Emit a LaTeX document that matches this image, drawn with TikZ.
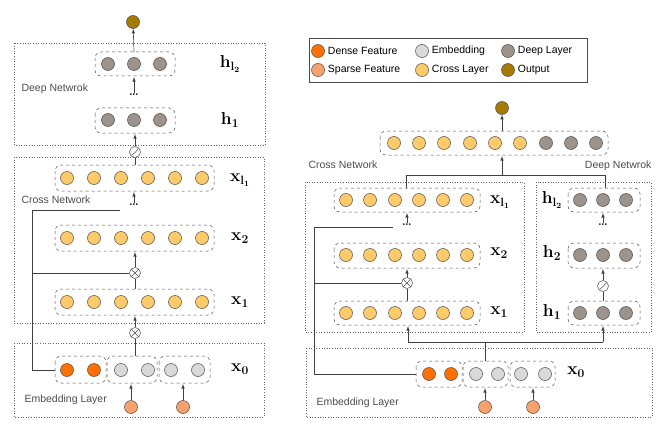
\documentclass[tikz,border=0pt]{standalone}
\usepackage{fontspec}
\setsansfont{Liberation Sans}
\usetikzlibrary{positioning,shapes.misc,calc}
\definecolor{densec}{HTML}{FF7000}
\definecolor{sparsec}{HTML}{F7A26C}
\definecolor{embc}{HTML}{D9D9D9}
\definecolor{crossc}{HTML}{FFCA6A}
\definecolor{deepc}{HTML}{9C948C}
\definecolor{outc}{HTML}{A67A00}
\begin{document}
\begin{tikzpicture}[x=1pt,y=-1pt,
    unit/.style={circle,draw=black!70,line width=.5pt,minimum size=13pt,inner sep=0pt},
    dense/.style={unit,fill=densec},
    sparse/.style={unit,fill=sparsec},
    emb/.style={unit,fill=embc},
    cross/.style={unit,fill=crossc},
    deep/.style={unit,fill=deepc},
    outp/.style={unit,fill=outc},
    group/.style={draw=black!70,dashed,rounded corners=6pt,line width=.5pt},
    panel/.style={draw=black!60,dotted,line width=.6pt},
    media/.style={font={\fontsize{10.5}{12}\sffamily},text=black!70},
    lab/.style={font=\fontsize{17}{17}\selectfont\boldmath},
    op/.style={circle,draw=black!70,fill=white,minimum size=11pt,inner sep=0pt,line width=.5pt},
    otimes/.style={op,path picture={\draw[black!70] (path picture bounding box.north west)--(path picture bounding box.south east)
        (path picture bounding box.north east)--(path picture bounding box.south west);}},
    relu/.style={op,path picture={\draw[black!70] ($(path picture bounding box.center)+(-3.5,3.5)$)--($(path picture bounding box.center)+(0,0.5)$)--($(path picture bounding box.center)+(3.5,-3.5)$);}},
    link/.style={draw=black!75,line width=.6pt},
    flow/.style={link,-latex},
    dots/.style={font=\large\bfseries,inner sep=1pt},
    ]
    \useasboundingbox (0,0) rectangle (666,433);

    % ---------------- Left: stacked
    \draw[panel] (14,43) rectangle (265,145);
    \draw[panel] (14,157) rectangle (264,323);
    \draw[panel] (14,343) rectangle (264,417);

    % Output
    \node[outp] (lout) at (133,22) {};

    % Deep layers
    \foreach \i/\x in {1/108,2/134,3/160} {
        \node[deep] (lhl\i) at (\x,64) {};
        \node[deep] (lha\i) at (\x,120) {};
    }
    \draw[group] (95,52) rectangle (175,76);
    \draw[group] (95,108) rectangle (175,133);
    \node[lab] at (230,64) {$\mathbf{h_{l_2}}$};
    \node[lab] at (230,120) {$\mathbf{h_1}$};
    \node[media,anchor=west] at (18,89) {Deep Netwrok};
    \node[dots] (ldh) at (134,95) {\dots};

    % Cross layers
    \foreach \i/\x in {1/67,2/94,3/121,4/148,5/175,6/202} {
        \node[cross] (lxl\i) at (\x,178) {};
        \node[cross] (lxb\i) at (\x,238) {};
        \node[cross] (lxa\i) at (\x,302) {};
    }
    \draw[group] (55,165) rectangle (214,191);
    \draw[group] (55,225) rectangle (214,251);
    \draw[group] (55,289) rectangle (214,315);
    \node[lab] at (240,180) {$\mathbf{x_{l_1}}$};
    \node[lab] at (240,238) {$\mathbf{x_2}$};
    \node[lab] at (240,302) {$\mathbf{x_1}$};
    \node[media,anchor=west] at (18,200) {Cross Network};
    \node[dots] (ldx) at (134,205) {\dots};

    % Embedding
    \node[dense] (ld1) at (67,370) {};
    \node[dense] (ld2) at (94,370) {};
    \node[emb] (le1) at (121,370) {};
    \node[emb] (le2) at (148,370) {};
    \node[emb] (le3) at (171,370) {};
    \node[emb] (le4) at (198,370) {};
    \draw[group] (55,356) rectangle (106,383);
    \draw[group] (107,356) rectangle (157,383);
    \draw[group] (159,356) rectangle (210,383);
    \node[lab] at (240,369) {$\mathbf{x_0}$};
    \node[sparse] (ls1) at (131,407) {};
    \node[sparse] (ls2) at (183,407) {};
    \node[media,anchor=west] at (21,400) {Embedding Layer};

    \node[otimes] (lo1) at (135,333) {};
    \node[otimes] (lo2) at (135,273) {};
    \node[relu] (lr) at (135,152) {};

    \draw[flow] (ls1) -- (131,384);
    \draw[flow] (ls2) -- (183,384);
    \draw[link] (135,356) -- (lo1);
    \draw[flow] (lo1) -- (135,316);
    \draw[link] (135,289) -- (lo2);
    \draw[flow] (lo2) -- (135,252);
    \draw[flow] (ldx) -- (134,192);
    \draw[link] (135,165) -- (lr);
    \draw[flow] (lr) -- (135,134);
    \draw[flow] (ldh) -- (134,77);
    \draw[flow] (134,52) -- (lout);
    \draw[link] (55,370) -| (32,210) -- (120,210);
    \draw[link] (32,273) -- (lo2);

    % ---------------- Right: parallel
    % Legend
    \draw[black!70,line width=.6pt] (309,38) rectangle (587,82);
    \node[dense] (kd) at (318,51) {};
    \node[sparse] (ks) at (318,70) {};
    \node[emb] (ke) at (422,51) {};
    \node[cross] (kc) at (422,70) {};
    \node[deep] (kp) at (508,51) {};
    \node[outp] (ko) at (508,70) {};
    \foreach \n/\t in {kd/Dense Feature,ks/Sparse Feature,ke/Embedding,kc/Cross Layer,kp/Deep Layer,ko/Output}
        \node[anchor=west,font=\fontsize{10.5}{12}\sffamily,inner sep=1pt] at ($(\n.east)+(2,0)$) {\t};

    \draw[panel] (305,182) rectangle (524,332);
    \draw[panel] (536,182) rectangle (651,332);
    \draw[panel] (306,348) rectangle (652,417);

    \node[outp] (rout) at (502,108) {};
    \foreach \i/\x in {1/394,2/419,3/444,4/470,5/495,6/520}
        \node[cross] (rc\i) at (\x,143) {};
    \foreach \i/\x in {7/546,8/571,9/596}
        \node[deep] (rc\i) at (\x,143) {};
    \draw[group] (380,131) rectangle (608,155);
    \node[media,anchor=west] at (305,165) {Cross Network};
    \node[media,anchor=east] at (655,166) {Deep Netwrok};

    \foreach \i/\x in {1/346,2/370,3/395,4/419,5/443,6/467} {
        \node[cross] (rxl\i) at (\x,200) {};
        \node[cross] (rxb\i) at (\x,255) {};
        \node[cross] (rxa\i) at (\x,313) {};
    }
    \draw[group] (334,188) rectangle (480,212);
    \draw[group] (334,243) rectangle (480,268);
    \draw[group] (334,301) rectangle (480,325);
    \node[lab] at (500,202) {$\mathbf{x_{l_1}}$};
    \node[lab] at (499,253) {$\mathbf{x_2}$};
    \node[lab] at (499,312) {$\mathbf{x_1}$};
    \node[dots] (rdx) at (407,225) {\dots};

    \foreach \i/\x in {1/580,2/603,3/626} {
        \node[deep] (rhl\i) at (\x,200) {};
        \node[deep] (rhb\i) at (\x,255) {};
        \node[deep] (rha\i) at (\x,313) {};
    }
    \draw[group] (568,188) rectangle (640,212);
    \draw[group] (568,243) rectangle (640,268);
    \draw[group] (568,301) rectangle (640,325);
    \node[lab] at (552,200) {$\mathbf{h_{l_2}}$};
    \node[lab] at (552,253) {$\mathbf{h_2}$};
    \node[lab] at (552,312) {$\mathbf{h_1}$};
    \node[dots] (rdh) at (603,225) {\dots};

    \node[dense] (rd1) at (429,374) {};
    \node[dense] (rd2) at (451,374) {};
    \node[emb] (re1) at (476,374) {};
    \node[emb] (re2) at (498,374) {};
    \node[emb] (re3) at (521,374) {};
    \node[emb] (re4) at (545,374) {};
    \draw[group] (416,361) rectangle (462,387);
    \draw[group] (463,361) rectangle (508,387);
    \draw[group] (510,361) rectangle (555,387);
    \node[lab] at (576,372) {$\mathbf{x_0}$};
    \node[sparse] (rs1) at (485,407) {};
    \node[sparse] (rs2) at (533,407) {};
    \node[media,anchor=west] at (313,403) {Embedding Layer};

    \node[otimes] (ro) at (407,283) {};
    \node[relu] (rr) at (603,286) {};

    \draw[flow] (rs1) -- (485,388);
    \draw[flow] (rs2) -- (533,388);
    \draw[link] (485,361) -- (485,342);
    \draw[flow] (408,342) -- (408,326);
    \draw[flow] (603,342) -- (603,326);
    \draw[link] (408,342) -- (603,342);
    \draw[link] (407,301) -- (ro);
    \draw[flow] (ro) -- (407,269);
    \draw[flow] (rdx) -- (407,213);
    \draw[link] (603,301) -- (rr);
    \draw[flow] (rr) -- (603,269);
    \draw[flow] (rdh) -- (603,213);
    \draw[link] (416,374) -| (314,227) -- (393,227);
    \draw[link] (314,283) -- (ro);
    \draw[link] (406,188) -- (406,175) -- (605,175) -- (605,188);
    \draw[flow] (502,175) -- (502,156);
    \draw[flow] (502,131) -- (rout);
\end{tikzpicture}
\end{document}
